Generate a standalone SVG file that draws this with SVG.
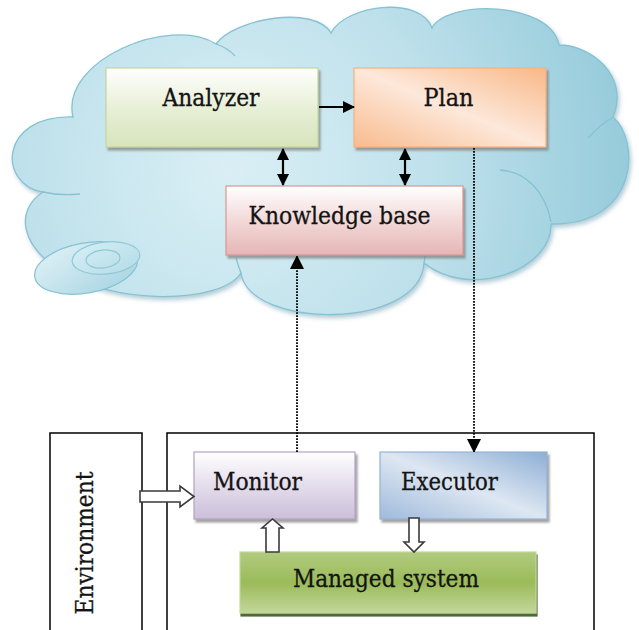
<svg xmlns="http://www.w3.org/2000/svg" width="639" height="630" viewBox="0 0 639 630">
  <defs>
    <radialGradient id="cloudFill" cx="230" cy="170" r="410" gradientUnits="userSpaceOnUse">
      <stop offset="0" stop-color="#daeff5"/>
      <stop offset="0.5" stop-color="#bfe1eb"/>
      <stop offset="1" stop-color="#94cada"/>
    </radialGradient>
    <linearGradient id="diskFill" x1="0" y1="0" x2="1" y2="1">
      <stop offset="0" stop-color="#e2f2f7"/>
      <stop offset="1" stop-color="#a5d3e1"/>
    </linearGradient>
    <linearGradient id="diskTop" x1="0" y1="0" x2="1" y2="1">
      <stop offset="0" stop-color="#d6eef5"/>
      <stop offset="1" stop-color="#b4dce7"/>
    </linearGradient>
    <linearGradient id="gAnalyzer" x1="0" y1="0" x2="0" y2="1">
      <stop offset="0" stop-color="#ffffff"/>
      <stop offset="0.55" stop-color="#e6eed3"/>
      <stop offset="1" stop-color="#d7e4bd"/>
    </linearGradient>
    <linearGradient id="gPlan" x1="1" y1="0" x2="0" y2="1">
      <stop offset="0" stop-color="#f8b887"/>
      <stop offset="0.5" stop-color="#fde8da"/>
      <stop offset="1" stop-color="#f8bb8e"/>
    </linearGradient>
    <linearGradient id="gKnowledge" x1="0" y1="0" x2="0" y2="1">
      <stop offset="0" stop-color="#ffffff"/>
      <stop offset="0.5" stop-color="#f2d9d8"/>
      <stop offset="1" stop-color="#e5b6b5"/>
    </linearGradient>
    <linearGradient id="gMonitor" x1="0" y1="0" x2="0" y2="1">
      <stop offset="0" stop-color="#ffffff"/>
      <stop offset="0.5" stop-color="#e4ddec"/>
      <stop offset="1" stop-color="#cbbfd9"/>
    </linearGradient>
    <linearGradient id="gExecutor" x1="1" y1="0" x2="0" y2="1">
      <stop offset="0" stop-color="#8eaed5"/>
      <stop offset="0.5" stop-color="#dde7f2"/>
      <stop offset="1" stop-color="#9fbadb"/>
    </linearGradient>
    <linearGradient id="gManaged" x1="0" y1="0" x2="0" y2="1">
      <stop offset="0" stop-color="#b1cb7f"/>
      <stop offset="0.5" stop-color="#9bbb59"/>
      <stop offset="1" stop-color="#c2d79b"/>
    </linearGradient>
    <filter id="boxShadow" x="-10%" y="-10%" width="125%" height="135%">
      <feDropShadow dx="2" dy="3" stdDeviation="1" flood-color="#7a7a7a" flood-opacity="0.7"/>
    </filter>
    <filter id="greenShadow" x="-10%" y="-10%" width="125%" height="135%">
      <feDropShadow dx="1" dy="3" stdDeviation="0.6" flood-color="#3b5a1a" flood-opacity="0.9"/>
    </filter>
    <filter id="cloudShadow" x="-5%" y="-5%" width="115%" height="115%">
      <feDropShadow dx="2" dy="3" stdDeviation="2" flood-color="#6a9fb0" flood-opacity="0.5"/>
    </filter>
    <marker id="headEnd" viewBox="0 0 12 12" refX="11" refY="6" markerWidth="12" markerHeight="12" markerUnits="userSpaceOnUse" orient="auto">
      <path d="M0,0 L12,6 L0,12 Z" fill="#000"/>
    </marker>
    <marker id="headStart" viewBox="0 0 12 12" refX="1" refY="6" markerWidth="12" markerHeight="12" markerUnits="userSpaceOnUse" orient="auto">
      <path d="M12,0 L0,6 L12,12 Z" fill="#000"/>
    </marker>
    <marker id="headDot" viewBox="0 0 12 14" refX="13" refY="7" markerWidth="12" markerHeight="14" markerUnits="userSpaceOnUse" orient="auto">
      <path d="M0,0 L14,7 L0,14 Z" fill="#000"/>
    </marker>
  </defs>
  <style>
    .label { font-family: "DejaVu Serif", "Liberation Serif", serif; font-size: 24px; fill: #141414; stroke: #141414; stroke-width: 0.3; }
    .box { stroke-width: 1.2; }
    .solid { stroke: #000; stroke-width: 2.2; fill: none; }
    .dotted { stroke: #000; stroke-width: 1.8; fill: none; stroke-dasharray: 1.8 1.2; }
    .block { fill: #fff; stroke: #3a3a3a; stroke-width: 1.6; stroke-linejoin: miter; }
    .frame { fill: none; stroke: #000; stroke-width: 1.5; }
    .crease { fill: none; stroke: #86c2d3; stroke-width: 1.3; }
  </style>

  <!-- cloud backdrop -->
  <g id="cloud">
    <path filter="url(#cloudShadow)" fill="url(#cloudFill)" stroke="#86c2d3" stroke-width="1.3"
      d="M73,117 C60,60 170,15 216,44 C235,18 315,5 331,33 C345,5 420,-5 432,28 C445,0 550,0 559,45 C590,45 630,75 613,117 C640,140 640,225 551,224 C552,270 470,300 424,263 C420,330 250,330 241,273 C220,305 110,305 60,270 C20,245 15,210 43,192 C-2,185 -2,115 73,117 Z"/>
    <path class="crease" d="M216,44 Q228,48 235,56"/>
    <path class="crease" d="M43,192 Q60,196 80,194"/>
    <path class="crease" d="M613,117 Q600,125 588,138"/>
    <path class="crease" d="M500,170 C525,172 545,190 551,222"/>
    <path class="crease" d="M424,263 Q426,255 423,247"/>
    <path class="crease" d="M241,273 Q238,265 236,258"/>
    <!-- disk at the lower left of the cloud -->
    <ellipse cx="86" cy="268" rx="52" ry="25" transform="rotate(-10 86 268)" fill="url(#diskFill)" stroke="#86c2d3" stroke-width="1.2"/>
    <ellipse cx="106" cy="258" rx="34" ry="16" transform="rotate(-6 106 258)" fill="url(#diskTop)" stroke="#8fc8d7" stroke-width="1.2"/>
    <ellipse cx="103" cy="259" rx="17" ry="9" transform="rotate(-6 103 259)" fill="none" stroke="#8fc8d7" stroke-width="1.2"/>
  </g>

  <!-- environment and managed-side frames -->
  <g id="environment">
    <rect class="frame" x="50" y="433" width="92" height="220"/>
    <text class="label" transform="translate(93,543) rotate(-90)" text-anchor="middle" textLength="143" lengthAdjust="spacingAndGlyphs">Environment</text>
  </g>
  <g id="system-frame">
    <rect class="frame" x="167" y="433" width="427" height="220"/>
  </g>

  <!-- nodes -->
  <g id="analyzer">
    <rect class="box" x="106" y="68" width="212" height="79" fill="url(#gAnalyzer)" stroke="#c3d69b" filter="url(#boxShadow)"/>
    <text class="label" x="211" y="106" text-anchor="middle" textLength="97" lengthAdjust="spacingAndGlyphs">Analyzer</text>
  </g>
  <g id="plan">
    <rect class="box" x="354" y="68" width="192" height="79" fill="url(#gPlan)" stroke="#f4b183" filter="url(#boxShadow)"/>
    <text class="label" x="448.5" y="106" text-anchor="middle" textLength="50" lengthAdjust="spacingAndGlyphs">Plan</text>
  </g>
  <g id="knowledge-base">
    <rect class="box" x="226" y="186" width="237" height="69" fill="url(#gKnowledge)" stroke="#d99694" filter="url(#boxShadow)"/>
    <text class="label" x="339.5" y="224" text-anchor="middle" textLength="182" lengthAdjust="spacingAndGlyphs">Knowledge base</text>
  </g>
  <g id="monitor">
    <rect class="box" x="194" y="452" width="161" height="67" fill="url(#gMonitor)" stroke="#b3a2c7" filter="url(#boxShadow)"/>
    <text class="label" x="213" y="490" textLength="89" lengthAdjust="spacingAndGlyphs">Monitor</text>
  </g>
  <g id="executor">
    <rect class="box" x="380" y="452" width="167" height="67" fill="url(#gExecutor)" stroke="#95b3d7" filter="url(#boxShadow)"/>
    <text class="label" x="401" y="490" textLength="97" lengthAdjust="spacingAndGlyphs">Executor</text>
  </g>
  <g id="managed-system">
    <rect class="box" x="240" y="552" width="296" height="61" fill="url(#gManaged)" stroke="#c3d69b" filter="url(#greenShadow)"/>
    <text class="label" x="386" y="587" text-anchor="middle" textLength="186" lengthAdjust="spacingAndGlyphs">Managed system</text>
  </g>

  <!-- connectors -->
  <g id="connectors">
    <line class="solid" x1="319" y1="107" x2="354" y2="107" marker-end="url(#headEnd)"/>
    <line class="solid" x1="283" y1="149" x2="283" y2="185" marker-start="url(#headStart)" marker-end="url(#headEnd)"/>
    <line class="solid" x1="405" y1="149" x2="405" y2="185" marker-start="url(#headStart)" marker-end="url(#headEnd)"/>
    <line class="dotted" x1="297" y1="452" x2="297" y2="256" marker-end="url(#headDot)"/>
    <line class="dotted" x1="474" y1="148" x2="474" y2="452" marker-end="url(#headDot)"/>
    <!-- hollow block arrows -->
    <path class="block" d="M140,491 L180,491 L180,486 L194,496.5 L180,507 L180,502 L140,502 Z"/>
    <path class="block" d="M266,552 L266,528 L262,528 L272.5,519 L283,528 L279,528 L279,552 Z"/>
    <path class="block" d="M409,518 L419,518 L419,542 L424,542 L414,552 L404,542 L409,542 Z"/>
  </g>
</svg>
